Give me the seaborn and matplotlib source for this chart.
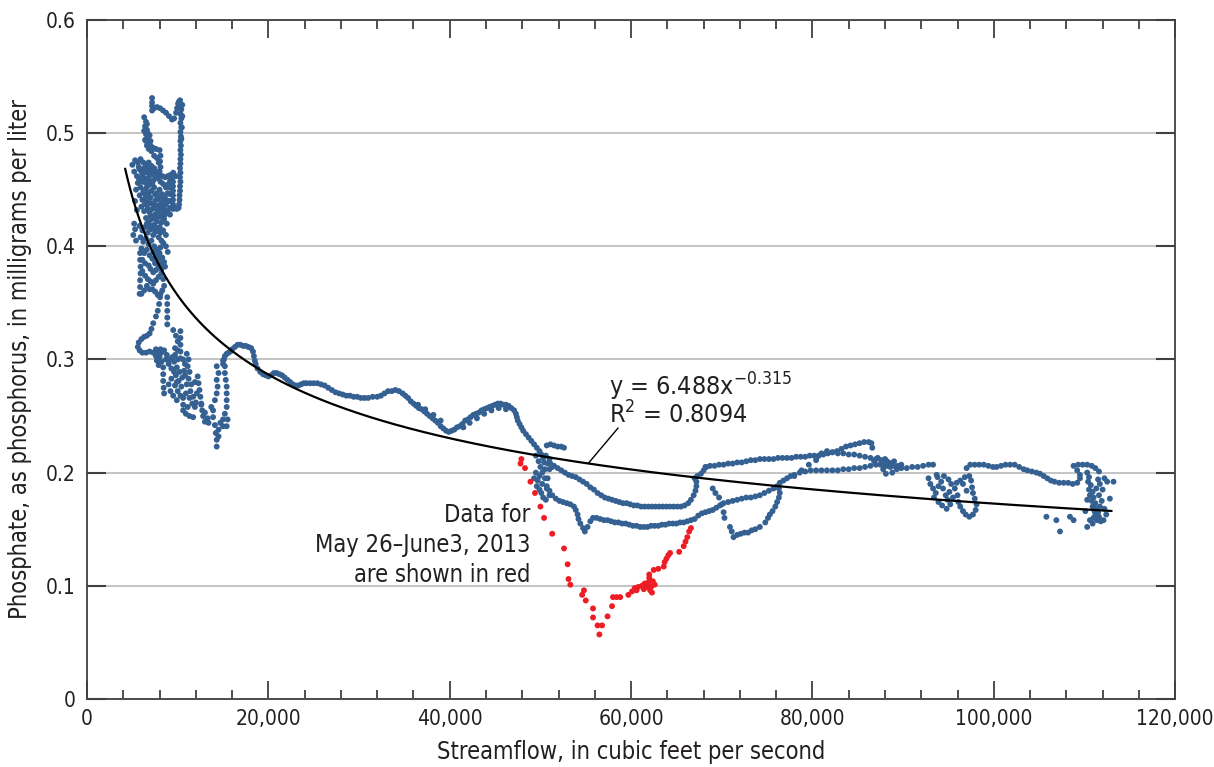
import numpy as np
import pandas as pd
import matplotlib
matplotlib.use("Agg")
import matplotlib.pyplot as plt
from matplotlib.ticker import FuncFormatter, MultipleLocator
import seaborn as sns

# values: (streamflow cfs, phosphate mg/L)
low_flow_pts = [
    (7170, 0.531), (7170, 0.527), (7170, 0.524), (7170, 0.520), (7390, 0.522), (7720, 0.523),
    (8050, 0.522), (8380, 0.520), (8710, 0.518), (9040, 0.515), (9370, 0.512), (9600, 0.513),
    (9820, 0.518), (9930, 0.522), (10040, 0.526), (10150, 0.528), (10260, 0.529),
    (10300, 0.525), (10400, 0.521), (10300, 0.517), (10400, 0.513), (10300, 0.509), (10400, 0.505),
    (10300, 0.501), (10350, 0.497), (10300, 0.493), (10350, 0.489), (10300, 0.485), (10350, 0.481),
    (10300, 0.477), (10300, 0.473), (10250, 0.469), (10300, 0.465), (10250, 0.461), (10300, 0.457),
    (10250, 0.453), (10250, 0.449), (10200, 0.445), (10200, 0.441), (10150, 0.437),
    (10500, 0.525), (10500, 0.515), (10450, 0.505), (10400, 0.495),
    (10100, 0.434), (9900, 0.433), (9700, 0.434),
    (9480, 0.461), (9480, 0.457), (9480, 0.453), (9480, 0.449), (9480, 0.445), (9480, 0.441),
    (9480, 0.437), (9480, 0.433), (9150, 0.458), (9150, 0.452), (9150, 0.446), (9150, 0.440),
    (9150, 0.434), (9150, 0.428),
    (6300, 0.514), (6500, 0.510), (6400, 0.506), (6600, 0.503), (6500, 0.499), (6700, 0.496),
    (6400, 0.494), (6800, 0.492), (6600, 0.489), (7000, 0.489), (7300, 0.487), (7600, 0.486),
    (8000, 0.485), (8100, 0.480), (8050, 0.475), (8100, 0.470), (8000, 0.466), (7000, 0.493),
    (6900, 0.498), (6300, 0.502), (6600, 0.508), (6700, 0.500), (6800, 0.486), (6500, 0.493),
    (7100, 0.484), (7400, 0.480), (7700, 0.478), (7900, 0.474),
    (5000, 0.472), (5300, 0.476), (5600, 0.474), (5900, 0.477), (6200, 0.474), (6500, 0.471),
    (6800, 0.474), (7100, 0.471), (7400, 0.469), (7700, 0.466), (8000, 0.463), (8300, 0.462),
    (8600, 0.461), (8900, 0.462), (9200, 0.463), (9500, 0.465), (9800, 0.462),
    (5200, 0.466), (5500, 0.462), (5800, 0.468), (6100, 0.463), (6400, 0.466), (6700, 0.460),
    (7000, 0.463), (7300, 0.458), (5600, 0.456), (5900, 0.452), (6200, 0.457), (6500, 0.451),
    (6800, 0.454), (7100, 0.449), (7400, 0.452), (7700, 0.447), (8000, 0.450), (8300, 0.446),
    (8600, 0.443), (8900, 0.447), (5800, 0.445), (6100, 0.441), (6400, 0.446), (6700, 0.440),
    (7000, 0.443), (7300, 0.438), (7600, 0.441), (7900, 0.436), (8200, 0.439), (8500, 0.433),
    (6000, 0.435), (6300, 0.431), (6600, 0.436), (6900, 0.430), (7200, 0.433), (7500, 0.428),
    (7800, 0.431), (8100, 0.426), (8400, 0.429), (6500, 0.425), (6800, 0.421), (7100, 0.424),
    (7400, 0.419), (7700, 0.422), (8000, 0.417), (5400, 0.450), (5300, 0.440), (5500, 0.432),
    (5200, 0.420), (5300, 0.415), (5100, 0.410), (5400, 0.405),
    (5700, 0.470), (6000, 0.466), (6300, 0.469), (6600, 0.465), (6900, 0.468), (7200, 0.465),
    (7500, 0.462), (7800, 0.460), (8100, 0.457), (8400, 0.455), (8700, 0.452), (9000, 0.455),
    (5700, 0.460), (6000, 0.457), (6300, 0.460), (6600, 0.455), (6900, 0.458), (7200, 0.455),
    (7500, 0.446), (7800, 0.442), (8100, 0.444), (8400, 0.440), (8700, 0.437), (9000, 0.440),
    (6200, 0.448), (6500, 0.443), (6800, 0.447), (7100, 0.438), (7400, 0.434), (7700, 0.436),
    (8000, 0.432), (8300, 0.435), (8600, 0.428), (8900, 0.431), (6400, 0.438), (6700, 0.433),
    (7000, 0.427), (7300, 0.425), (7600, 0.424), (7900, 0.427), (8200, 0.421), (8500, 0.424),
    (8800, 0.420), (6600, 0.420), (6900, 0.416), (7200, 0.418), (7500, 0.414), (7800, 0.416),
    (8100, 0.412), (8400, 0.414), (8700, 0.410), (8100, 0.399), (8400, 0.403), (8700, 0.400),
    (8900, 0.395), (7300, 0.395), (7600, 0.392), (7900, 0.389), (8200, 0.385), (7000, 0.380),
    (7300, 0.377), (7600, 0.379), (7900, 0.382), (8200, 0.380),
    (5800, 0.418), (6100, 0.414), (6400, 0.417), (6700, 0.412), (7000, 0.415), (7300, 0.410),
    (7600, 0.413), (7900, 0.408), (8200, 0.405), (5900, 0.408), (6200, 0.404), (6500, 0.407),
    (6800, 0.402), (7100, 0.405), (7400, 0.400), (7700, 0.397), (8000, 0.394), (8300, 0.390),
    (8500, 0.386), (8600, 0.382), (6000, 0.398), (6300, 0.394), (6600, 0.397), (6900, 0.392),
    (7200, 0.389), (7500, 0.385), (6100, 0.388), (6400, 0.385), (6800, 0.383),
    (6100, 0.378), (6400, 0.374), (6700, 0.371), (7000, 0.369), (7300, 0.367), (7600, 0.370),
    (7900, 0.373), (8200, 0.376), (8400, 0.371), (8500, 0.365), (8300, 0.361), (8100, 0.358),
    (7800, 0.357), (7500, 0.360), (7200, 0.362), (6900, 0.362), (6600, 0.365), (6300, 0.361),
    (6000, 0.358), (5850, 0.394), (5850, 0.388), (5900, 0.382), (5900, 0.376), (5850, 0.370),
    (5850, 0.364), (5800, 0.358), (8850, 0.355), (8850, 0.349), (8850, 0.343), (8850, 0.337),
    (8850, 0.331),
    (8050, 0.355), (7950, 0.349), (7800, 0.343), (7600, 0.338), (7300, 0.332), (7100, 0.327),
    (6900, 0.323), (6600, 0.321), (6300, 0.320), (6000, 0.318), (5700, 0.315), (5600, 0.311),
    (5800, 0.308), (6100, 0.306),
    (6500, 0.306), (6900, 0.307), (7300, 0.306), (7600, 0.309), (7800, 0.305), (8000, 0.302),
    (8200, 0.306), (8500, 0.308), (8800, 0.304), (9100, 0.300), (7700, 0.299), (7900, 0.295),
    (8200, 0.298), (8400, 0.293), (8400, 0.287), (8400, 0.281), (8450, 0.275), (8500, 0.270),
    (9500, 0.326), (9800, 0.321), (10000, 0.316), (10300, 0.325), (10300, 0.319), (10300, 0.313),
    (10300, 0.307), (10300, 0.301), (10000, 0.300), (9700, 0.304), (9600, 0.298), (9900, 0.293),
    (10200, 0.289), (9800, 0.286), (10100, 0.281), (9700, 0.277), (10000, 0.272), (10300, 0.268),
    (10600, 0.266), (10600, 0.260), (10600, 0.255), (10900, 0.252), (11300, 0.250), (11700, 0.249),
    (11000, 0.305), (11200, 0.300), (11100, 0.294), (11300, 0.289), (11200, 0.283), (11500, 0.278),
    (11400, 0.272), (11700, 0.267), (11600, 0.261), (11900, 0.258), (10700, 0.290), (10800, 0.296),
    (10500, 0.284), (12200, 0.285), (12300, 0.279), (12400, 0.273), (12500, 0.267), (12600, 0.261),
    (12700, 0.255), (12800, 0.250), (9300, 0.283), (9000, 0.278), (9200, 0.272),
    (7600, 0.303), (8100, 0.309), (8700, 0.300), (9000, 0.296), (9300, 0.292), (9400, 0.302),
    (9700, 0.310), (10000, 0.308), (10600, 0.300), (10800, 0.286), (11000, 0.278), (11300, 0.266),
    (11100, 0.258), (10900, 0.270), (11900, 0.280), (12100, 0.270), (12000, 0.262), (9600, 0.289),
    (9900, 0.280), (10400, 0.276), (9500, 0.268), (9900, 0.264),
    (12600, 0.260), (13000, 0.253), (13300, 0.248), (13000, 0.245), (13700, 0.258), (13900, 0.249),
    (13400, 0.244), (14100, 0.242), (14500, 0.238), (14300, 0.229), (14300, 0.223), (14700, 0.244),
    (15000, 0.241), (15400, 0.241), (14300, 0.294), (14500, 0.288), (14300, 0.282), (14400, 0.276),
    (14300, 0.270), (14100, 0.264), (13900, 0.255), (14200, 0.235), (14500, 0.232), (15000, 0.247),
    (15200, 0.252), (15400, 0.258), (15400, 0.264), (15400, 0.270), (15400, 0.276), (15300, 0.282),
    (15200, 0.288), (15200, 0.294), (15000, 0.299), (15500, 0.247),
]

mid_pts = [
    (15000, 0.296), (15100, 0.300), (15200, 0.303), (15400, 0.305), (15600, 0.306), (15800, 0.307),
    (16000, 0.309), (16300, 0.311), (16600, 0.313), (16900, 0.313), (17200, 0.312), (17500, 0.312),
    (17800, 0.311), (18100, 0.310), (18300, 0.307), (18400, 0.303), (18500, 0.299), (18600, 0.296),
    (18800, 0.292), (19100, 0.289), (19400, 0.287), (19700, 0.286), (20000, 0.285), (20300, 0.286),
    (20600, 0.288), (20900, 0.288), (21200, 0.287), (21500, 0.286), (21800, 0.284), (22100, 0.282),
    (22400, 0.280), (22700, 0.278), (23000, 0.277), (23300, 0.277), (23600, 0.278), (23900, 0.279),
    (24200, 0.279), (24600, 0.279), (25000, 0.279), (25400, 0.279), (25800, 0.278), (26200, 0.277),
    (26600, 0.275), (27000, 0.273), (27400, 0.271), (27800, 0.270), (28200, 0.269), (28600, 0.268),
    (29000, 0.268), (29400, 0.267), (29800, 0.267), (30200, 0.266), (30600, 0.266), (31000, 0.266),
    (31500, 0.267), (32000, 0.267), (32400, 0.268), (32800, 0.270), (33200, 0.272), (33600, 0.272),
    (34000, 0.273), (34400, 0.272), (34800, 0.270), (35100, 0.268), (35400, 0.266), (35700, 0.263),
    (36000, 0.261), (36300, 0.259), (36600, 0.257), (36900, 0.256), (37200, 0.254), (37500, 0.252),
    (37800, 0.250), (38100, 0.248), (38400, 0.246), (38700, 0.244), (39000, 0.241), (39300, 0.239),
    (39600, 0.237), (39900, 0.236), (40200, 0.237), (40500, 0.238), (40800, 0.240), (41100, 0.241),
    (41400, 0.243), (41700, 0.246), (42000, 0.247), (42300, 0.249), (42600, 0.251), (42900, 0.252),
    (43200, 0.253), (43500, 0.255), (43800, 0.256), (44100, 0.257), (44400, 0.258), (44700, 0.259),
    (45000, 0.260), (45300, 0.261), (45600, 0.261), (45900, 0.260), (46200, 0.260), (46500, 0.259),
    (46800, 0.257), (47100, 0.255), (47300, 0.252), (47400, 0.249), (47500, 0.246), (47700, 0.243),
    (47900, 0.240), (48100, 0.237), (48400, 0.234), (48700, 0.231), (49000, 0.228), (49300, 0.225),
    (49600, 0.222), (49900, 0.219), (50100, 0.216), (50300, 0.213),
    (36500, 0.260), (37300, 0.256), (38200, 0.251), (39000, 0.246), (41500, 0.240), (42200, 0.244),
    (43000, 0.248), (43800, 0.252), (44600, 0.255), (45400, 0.257), (46200, 0.256),
    (50700, 0.224), (51100, 0.225), (51500, 0.224), (51900, 0.223), (52300, 0.223), (52600, 0.222),
    (49500, 0.215), (49800, 0.210), (50000, 0.205), (50200, 0.200), (49900, 0.197), (49700, 0.193),
    (49600, 0.188), (49900, 0.185), (50200, 0.190), (50500, 0.195), (50500, 0.203), (50800, 0.208),
    (50400, 0.209), (50100, 0.182), (50300, 0.178), (50600, 0.176), (50700, 0.186), (51000, 0.180),
    (49500, 0.200), (49300, 0.195), (50800, 0.195), (51000, 0.203), (51300, 0.205), (50600, 0.215),
    (51000, 0.212),
]

branch_upper_pts = [
    (51100, 0.208), (51500, 0.206), (51900, 0.204), (52300, 0.202), (52700, 0.200), (53100, 0.198),
    (53500, 0.197), (53900, 0.196), (54300, 0.194), (54700, 0.192), (55100, 0.190), (55500, 0.187),
    (55900, 0.185), (56300, 0.182), (56700, 0.180), (57100, 0.178), (57500, 0.177), (57900, 0.176),
    (58300, 0.175), (58700, 0.174), (59100, 0.173), (59500, 0.173), (59900, 0.172), (60300, 0.171),
    (60700, 0.171), (61100, 0.170), (61500, 0.170), (61900, 0.170), (62300, 0.170), (62700, 0.170),
    (63100, 0.170), (63500, 0.170), (63900, 0.170), (64300, 0.170), (64700, 0.170), (65100, 0.170),
    (65500, 0.170), (65900, 0.171), (66300, 0.173), (66600, 0.176), (66900, 0.180), (67100, 0.184),
    (67200, 0.188), (67200, 0.192), (67000, 0.195), (67300, 0.197), (67700, 0.199), (68000, 0.202),
    (68300, 0.205),
]

branch_lower_pts = [
    (50700, 0.188), (51000, 0.184), (51300, 0.180), (51700, 0.177), (52100, 0.175), (52500, 0.174),
    (52900, 0.173), (53300, 0.172), (53700, 0.170), (53900, 0.167), (54100, 0.163), (54200, 0.159),
    (54400, 0.155), (54700, 0.151), (54900, 0.148), (55200, 0.152), (55500, 0.157), (55800, 0.160),
    (56200, 0.160), (56600, 0.159), (57000, 0.158), (57400, 0.158), (57800, 0.157), (58200, 0.156),
    (58600, 0.156), (59000, 0.155), (59400, 0.155), (59800, 0.154), (60200, 0.153), (60600, 0.153),
    (61000, 0.152), (61400, 0.152), (61800, 0.152), (62200, 0.153), (62600, 0.153), (63000, 0.153),
    (63400, 0.154), (63800, 0.154), (64200, 0.155), (64600, 0.155), (65000, 0.155), (65400, 0.156),
    (65800, 0.156), (66200, 0.157), (66600, 0.158), (67000, 0.159), (67400, 0.162), (67800, 0.164),
    (68200, 0.165), (68600, 0.166), (69000, 0.167),
]

high_flow_pts = [
    (68200, 0.205), (68700, 0.206), (69200, 0.206), (69700, 0.207), (70200, 0.207), (70700, 0.208),
    (71200, 0.208), (71700, 0.209), (72200, 0.209), (72700, 0.210), (73200, 0.211), (73700, 0.211),
    (74200, 0.212), (74700, 0.212), (75200, 0.212), (75700, 0.212), (76200, 0.213), (76700, 0.213),
    (77200, 0.213), (77700, 0.213), (78200, 0.214), (78700, 0.214), (79200, 0.214), (79700, 0.215),
    (80200, 0.215), (80700, 0.215), (81200, 0.216), (81700, 0.217), (82200, 0.218), (82700, 0.219),
    (83200, 0.221), (83700, 0.223), (84200, 0.224), (84700, 0.225), (85200, 0.226), (85700, 0.227),
    (86200, 0.227), (86500, 0.226), (86600, 0.222),
    (80500, 0.214), (81000, 0.217), (81600, 0.219), (82200, 0.218), (82800, 0.217), (83400, 0.217),
    (84000, 0.216), (84600, 0.216), (85200, 0.215), (85800, 0.214), (86400, 0.213), (87000, 0.212),
    (87600, 0.211), (88200, 0.210), (88800, 0.208), (89400, 0.206),
    (78000, 0.197), (78800, 0.202), (79600, 0.207), (80400, 0.211),
    (69400, 0.169), (69800, 0.171), (70200, 0.173), (70700, 0.174), (71200, 0.175), (71700, 0.176),
    (72200, 0.177), (72700, 0.178), (73200, 0.178), (73700, 0.179), (74200, 0.180), (74700, 0.182),
    (75200, 0.184), (75700, 0.186), (76100, 0.188), (76400, 0.191), (76800, 0.193), (77200, 0.195),
    (77600, 0.197),
    (78000, 0.198), (78600, 0.200), (79200, 0.201), (79800, 0.202), (80400, 0.202), (81000, 0.202),
    (81600, 0.202), (82200, 0.202), (82800, 0.202), (83400, 0.203), (84000, 0.203), (84600, 0.204),
    (85200, 0.204), (85800, 0.205), (86400, 0.206), (87000, 0.207), (87500, 0.207), (88000, 0.206),
    (88600, 0.205), (89200, 0.205), (89800, 0.204), (90400, 0.204), (91000, 0.205), (91600, 0.205),
    (92200, 0.206), (92800, 0.207), (93300, 0.207),
    (86800, 0.210), (87200, 0.213), (87600, 0.209), (88000, 0.212), (88400, 0.209), (87800, 0.203),
    (88300, 0.206), (88800, 0.200), (89300, 0.203), (89800, 0.207), (88100, 0.199), (89000, 0.210),
    (93700, 0.198),
    (69000, 0.186), (69300, 0.182), (69700, 0.178), (70000, 0.172), (70200, 0.165), (70300, 0.160),
    (70900, 0.152), (71100, 0.148), (71300, 0.143), (71700, 0.145), (72100, 0.146), (72500, 0.147),
    (72900, 0.147), (73300, 0.149), (73700, 0.150), (74200, 0.152),
    (74800, 0.156), (75100, 0.160), (75300, 0.163), (75600, 0.166), (75900, 0.170), (76100, 0.174),
    (76300, 0.178), (76400, 0.182), (76300, 0.186),
    (92800, 0.195), (93000, 0.190), (93300, 0.186), (93600, 0.182), (93900, 0.188), (94200, 0.192),
    (94400, 0.186), (94700, 0.180), (94900, 0.176), (95100, 0.183), (95300, 0.190), (95000, 0.194),
    (94500, 0.197), (93800, 0.196), (93400, 0.178), (93900, 0.174), (94300, 0.171), (94800, 0.168),
    (95200, 0.172), (95500, 0.178), (95700, 0.186), (95900, 0.191),
    (96300, 0.193), (96800, 0.196), (97300, 0.197), (97500, 0.193), (97600, 0.187), (97700, 0.182),
    (97900, 0.177), (98100, 0.172), (98000, 0.167), (97700, 0.163), (97300, 0.161), (96900, 0.163),
    (96600, 0.166), (96300, 0.170), (96100, 0.174), (96000, 0.180), (96600, 0.190), (97000, 0.184),
    (97000, 0.204), (97400, 0.207), (97900, 0.207), (98400, 0.207), (98900, 0.207), (99400, 0.206),
    (99900, 0.205), (100300, 0.205), (100800, 0.206), (101300, 0.207), (101800, 0.207), (102300, 0.207),
    (102800, 0.205), (103300, 0.203), (103700, 0.202), (104200, 0.201), (104700, 0.200), (105100, 0.199),
    (105500, 0.197), (105900, 0.195), (106300, 0.193), (106700, 0.192), (107200, 0.191), (107700, 0.191),
    (108200, 0.191), (108700, 0.190), (109200, 0.191), (109500, 0.195), (109500, 0.198), (109200, 0.202),
    (108800, 0.206), (109300, 0.207), (109800, 0.207), (110300, 0.207), (110800, 0.206), (111200, 0.204),
    (111600, 0.201),
    (110300, 0.200), (110500, 0.196), (110400, 0.192), (110700, 0.189), (110500, 0.185), (110900, 0.183),
    (110600, 0.180), (111000, 0.178), (110800, 0.175), (111200, 0.173), (110900, 0.170), (111300, 0.168),
    (111100, 0.166), (111500, 0.165), (111200, 0.163), (111600, 0.161), (111000, 0.160), (111400, 0.158),
    (111800, 0.157), (110600, 0.158), (110900, 0.155), (111700, 0.170), (111900, 0.175), (111600, 0.180),
    (112000, 0.185), (111700, 0.190), (112200, 0.195), (112500, 0.192), (113200, 0.192), (112200, 0.168),
    (112400, 0.163), (112100, 0.158), (111300, 0.186), (111500, 0.194), (112800, 0.177), (110100, 0.166),
    (110300, 0.176),
    (105800, 0.161), (106900, 0.158), (107300, 0.148), (108400, 0.161), (108800, 0.158), (110300, 0.152),
]

# May 26 - June 3, 2013
red_pts = [
    (47900, 0.212), (47800, 0.208), (48300, 0.204), (48900, 0.192), (49400, 0.182), (50000, 0.170),
    (50400, 0.160), (51300, 0.146), (52600, 0.133), (53000, 0.119), (53100, 0.106), (53300, 0.101),
    (54600, 0.092), (54800, 0.096), (55000, 0.087), (55800, 0.080), (55800, 0.072), (56300, 0.065),
    (56500, 0.057), (56800, 0.065), (57400, 0.073), (57900, 0.082), (58000, 0.090), (58400, 0.090),
    (58800, 0.090), (59700, 0.092), (60100, 0.095), (60400, 0.098), (60800, 0.099), (61200, 0.100),
    (61500, 0.102), (61700, 0.099), (62100, 0.096), (62300, 0.094), (62000, 0.107), (62000, 0.110),
    (62600, 0.101), (62500, 0.114), (63000, 0.115), (63600, 0.117), (63700, 0.121), (63900, 0.124),
    (64100, 0.127), (64300, 0.129), (65300, 0.130), (65800, 0.135), (66000, 0.139), (66200, 0.143),
    (66400, 0.148), (66600, 0.151), (61900, 0.103), (62200, 0.099), (61400, 0.097), (60600, 0.096),
    (62400, 0.104),
]

# power fit shown on the chart
fit_a = 6.488
fit_b = -0.315
fit_start, fit_end = 4200, 113000

blue = "#346092"
red = "#ee1d25"
ink = "#231f20"

rows = []
for pts in [low_flow_pts, mid_pts, branch_upper_pts, branch_lower_pts, high_flow_pts]:
    rows += [(x, y, "other") for x, y in pts]
rows += [(x, y, "may") for x, y in red_pts]
df = pd.DataFrame(rows, columns=["flow", "phos", "period"])

sns.set_theme(style="white")
plt.rcParams["font.family"] = ["DejaVu Sans"]
plt.rcParams["font.stretch"] = "condensed"
plt.rcParams["mathtext.fontset"] = "custom"
plt.rcParams["mathtext.rm"] = "DejaVu Sans:stretch=condensed"
plt.rcParams["mathtext.it"] = "DejaVu Sans:stretch=condensed"
plt.rcParams["text.color"] = ink
plt.rcParams["axes.labelcolor"] = ink
plt.rcParams["xtick.color"] = ink
plt.rcParams["ytick.color"] = ink

fig, ax = plt.subplots(figsize=(12.14, 7.67), dpi=100)
fig.subplots_adjust(left=0.0717, right=0.968, bottom=0.0887, top=0.974)

sns.scatterplot(data=df, x="flow", y="phos", hue="period",
                palette={"other": blue, "may": red}, s=18, linewidth=0,
                legend=False, ax=ax, zorder=3)

fit_x = np.linspace(fit_start, fit_end, 400)
fit_y = fit_a * fit_x ** fit_b
sns.lineplot(x=fit_x, y=fit_y, color="black", linewidth=1.6, ax=ax, zorder=4)

ax.set_xlim(0, 120000)
ax.set_ylim(0, 0.6)
ax.xaxis.set_major_locator(MultipleLocator(20000))
ax.xaxis.set_minor_locator(MultipleLocator(4000))
ax.yaxis.set_major_locator(MultipleLocator(0.1))
ax.xaxis.set_major_formatter(FuncFormatter(lambda v, p: f"{int(v):,}"))
ax.yaxis.set_major_formatter(FuncFormatter(lambda v, p: "0" if v == 0 else f"{v:.1f}"))

ax.yaxis.grid(True, color="#c4c4c4", linewidth=1.4)
ax.set_axisbelow(True)
for sp in ax.spines.values():
    sp.set_color("#404040")
    sp.set_linewidth(1.3)

ax.tick_params(axis="y", which="major", direction="in", length=14, width=1.5,
               left=True, right=True, color="#404040", labelsize=15, pad=8)
ax.tick_params(axis="x", which="major", direction="in", length=13, width=1.3,
               bottom=True, top=True, color="#404040", labelsize=15, pad=7)
ax.tick_params(axis="x", which="minor", direction="in", length=6.5, width=1.3,
               bottom=True, top=True, color="#404040")

ax.set_xlabel("Streamflow, in cubic feet per second", fontsize=17, labelpad=8)
ax.set_ylabel("Phosphate, as phosphorus, in milligrams per liter", fontsize=17, labelpad=10)

ax.text(57600, 0.2757, r"y = 6.488x$^{\mathrm{-0.315}}$", fontsize=18, va="center", ha="left")
ax.text(57600, 0.251, r"R$^{\mathrm{2}}$ = 0.8094", fontsize=18, va="center", ha="left")
ax.plot([55260, 58570], [0.208, 0.2395], color="black", linewidth=1.0, zorder=4)

ax.text(48900, 0.136, "Data for\nMay 26\u2013June3, 2013\nare shown in red", fontsize=17,
        ha="right", va="center", linespacing=1.3)

fig.savefig("out.png", dpi=100)
